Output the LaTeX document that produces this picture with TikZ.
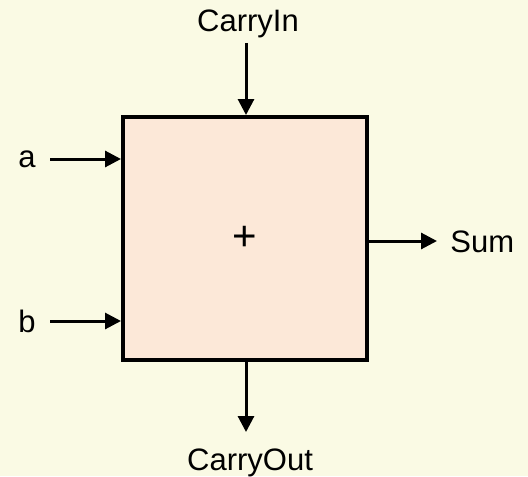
\documentclass[tikz,border=0pt]{standalone}
\usepackage{fontspec}
\setmainfont{Liberation Sans}
\usepackage{tikz}
\usetikzlibrary{arrows.meta,positioning}
\definecolor{adderbg}{RGB}{250,250,228}
\definecolor{adderfill}{RGB}{252,232,216}

\begin{document}
\begin{tikzpicture}[x=0.5pt,y=-0.5pt,
    lbl/.style={font=\fontsize{15.5}{18}\selectfont,inner sep=0pt,anchor=base},
    sig/.style={-{Triangle[length=8pt,width=8pt]},line width=1.5pt}]
        % background
        \fill[adderbg] (0,0) rectangle (528,476);
        \useasboundingbox (0,0) rectangle (528,476);

        % adder block
        \node[draw,line width=2pt,fill=adderfill,minimum width=122pt,minimum height=121.5pt,inner sep=0pt,font=\fontsize{21}{24}\selectfont] (adder) at (245,238.5) {+};

        % labels
        \node[lbl] (cin) at (248,32) {CarryIn};
        \node[lbl] (a) at (27,167) {a};
        \node[lbl] (b) at (27,332) {b};
        \node[lbl,anchor=base west] (sum) at (450,252) {Sum};
        \node[lbl] (cout) at (250,470) {CarryOut};

        % free ends of the signal lines
        \coordinate (cinTail) at (246,43);
        \coordinate (aTail) at (50,159);
        \coordinate (bTail) at (50,321);
        \coordinate (sumHead) at (437,241);
        \coordinate (coutHead) at (246,432);

        \draw[sig] (cinTail) -- (cinTail |- adder.north);
        \draw[sig] (aTail) -- (aTail -| adder.west);
        \draw[sig] (bTail) -- (bTail -| adder.west);
        \draw[sig] (sumHead -| adder.east) -- (sumHead);
        \draw[sig] (coutHead |- adder.south) -- (coutHead);
    \end{tikzpicture}
\end{document}
